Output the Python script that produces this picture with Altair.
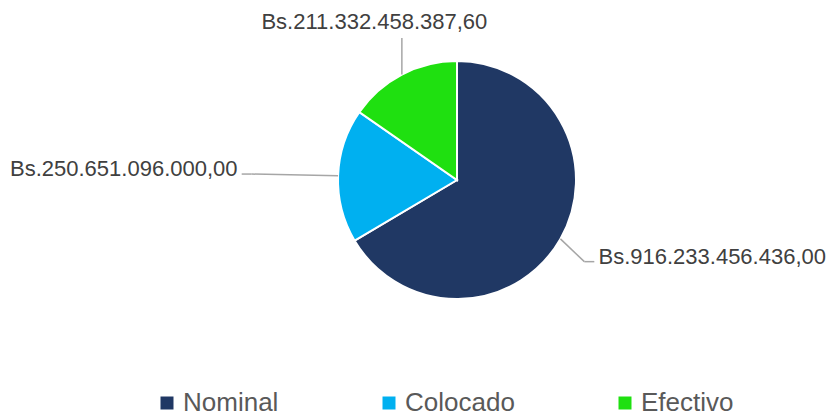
import altair as alt
import pandas as pd

# ---- data ----
categories = ["Nominal", "Colocado", "Efectivo"]
values = [916233456436.00, 250651096000.00, 211332458387.60]
colors = ["#203864", "#00B0F0", "#1FE010"]


def fmt_bs(v):
    s = f"{v:,.2f}"
    s = s.replace(",", "X").replace(".", ",").replace("X", ".")
    return "Bs." + s


df = pd.DataFrame({
    "category": categories,
    "value": values,
    "label": [fmt_bs(v) for v in values],
    "order": list(range(len(categories))),
})

# ---- layout ----
W, H = 828, 416
CX, CY, R = 457, 180, 119
LABEL_FS = 22
LABEL_R = 165
TOP_Y = 22
FONT = "Liberation Sans"

base = (
    alt.Chart(df)
    .transform_joinaggregate(total="sum(value)")
    .transform_window(cum="sum(value)", sort=[alt.SortField("order")], frame=[None, 0])
    .transform_calculate(
        mid="2*PI*(datum.cum - datum.value/2)/datum.total",
    )
    .transform_calculate(
        s="sin(datum.mid)",
        c="cos(datum.mid)",
    )
    .transform_calculate(
        top="datum.c > 0.8",
        side="datum.s >= 0 ? 1 : -1",
        x0=f"{CX} + {R}*datum.s",
        y0=f"{CY} - {R}*datum.c",
        w=f"length(datum.label)*{LABEL_FS}*0.495",
    )
    .transform_calculate(
        yl=f"datum.top ? {TOP_Y} + 16 : {CY} - {LABEL_R}*datum.c",
        lx=f"datum.top ? {CX} + ({CY} - {TOP_Y})*datum.s/datum.c : (datum.side > 0 ? {W} - 2 : 10)",
    )
    .transform_calculate(
        ly=f"datum.top ? {TOP_Y} : datum.yl - 5",
        inner="datum.side > 0 ? datum.lx - datum.w : datum.lx + datum.w",
    )
    .transform_calculate(
        x2="datum.top ? datum.x0 : datum.inner - datum.side*3",
    )
    .transform_calculate(
        x1="datum.top ? datum.x0 : datum.x2 - datum.side*10",
    )
)

pie = alt.Chart(df).mark_arc(outerRadius=R, stroke="white", strokeWidth=2).encode(
    theta=alt.Theta("value:Q", stack=True),
    order=alt.Order("order:Q"),
    color=alt.Color(
        "category:N",
        scale=alt.Scale(domain=categories, range=colors),
        sort=categories,
        legend=alt.Legend(
            orient="none",
            legendX=154,
            legendY=390,
            direction="horizontal",
            title=None,
            symbolType="square",
            symbolSize=169,
            symbolStrokeWidth=0,
            symbolOpacity=1,
            labelFontSize=26,
            labelFont=FONT,
            labelColor="#595959",
            labelOffset=3,
            labelLimit=400,
            columnPadding=97,
            padding=0,
        ),
    ),
    x=alt.value(CX),
    y=alt.value(CY),
)

leader_color = "#A6A6A6"
seg1 = base.mark_rule(color=leader_color, strokeWidth=1.5).encode(
    x=alt.X("x0:Q", scale=None, axis=None),
    y=alt.Y("y0:Q", scale=None, axis=None),
    x2="x1:Q",
    y2="yl:Q",
)
seg2 = base.transform_filter("!datum.top").mark_rule(color=leader_color, strokeWidth=1.5).encode(
    x=alt.X("x1:Q", scale=None, axis=None),
    y=alt.Y("yl:Q", scale=None, axis=None),
    x2="x2:Q",
    y2="yl:Q",
)

text_props = dict(font=FONT, fontSize=LABEL_FS, color="#404040", baseline="middle")
txt_enc = dict(
    x=alt.X("lx:Q", scale=None, axis=None),
    y=alt.Y("ly:Q", scale=None, axis=None),
    text="label:N",
)
txt_top = base.transform_filter("datum.top").mark_text(align="center", **text_props).encode(**txt_enc)
txt_right = base.transform_filter("!datum.top && datum.side > 0").mark_text(align="right", **text_props).encode(**txt_enc)
txt_left = base.transform_filter("!datum.top && datum.side < 0").mark_text(align="left", **text_props).encode(**txt_enc)

chart = (
    alt.layer(pie, seg1, seg2, txt_top, txt_right, txt_left)
    .properties(width=W, height=H, autosize=alt.AutoSizeParams(type="none"), padding=0)
    .configure_view(stroke=None)
)

chart.save("out.html", embed_options={"renderer": "svg", "actions": False})
